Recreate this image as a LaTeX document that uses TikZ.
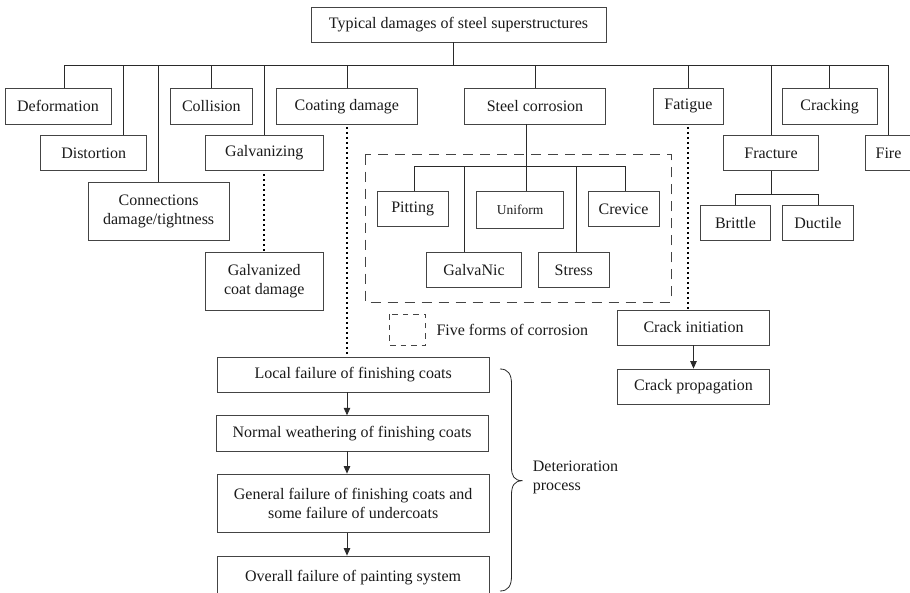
\documentclass[tikz,border=0pt]{standalone}
\usepackage{fontspec}
\setmainfont{Liberation Serif}
\usetikzlibrary{arrows.meta}
\definecolor{boxc}{HTML}{444444}
\definecolor{linec}{HTML}{2A2A2A}
\definecolor{txtc}{HTML}{1A1A1A}
\newcommand\bx[6]{\node[box, minimum width={(#4-#2)*1pt}, minimum height={(#5-#3)*1pt}] (#1) at ({(#2+#4)/2},{(#3+#5)/2}) {#6};}
\begin{document}
\begin{tikzpicture}[x=1pt,y=-1pt,
  box/.style={draw=boxc, line width=0.8pt, inner sep=0pt, text=txtc, align=center, font=\fontsize{16}{19}\selectfont},
  conn/.style={draw=linec, line width=0.8pt},
  dots/.style={draw=black, line width=2.2pt, dash pattern=on 2.2pt off 2.8pt},
  dash5/.style={draw=boxc, line width=0.8pt, dash pattern=on 10pt off 7pt},
  arr/.style={conn, -{Triangle[length=7.5pt,width=6.5pt]}}]
\useasboundingbox (0,0) rectangle (910,593);
% top
\bx{top}{311}{7}{606}{42}{Typical damages of steel superstructures}
% row 1
\bx{deform}{5}{88.7}{111}{124}{Deformation}
\bx{collis}{170}{88.7}{252.7}{124}{Collision}
\bx{coat}{276}{88.7}{417.7}{124}{Coating damage}
\bx{steel}{464.3}{88.7}{605.7}{124}{Steel corrosion}
\bx{fatig}{653}{88.7}{723.7}{124}{Fatigue}
\bx{crack}{782.3}{88.7}{877}{124}{Cracking}
% row 2
\bx{distor}{40.7}{135}{146.7}{170.7}{Distortion}
\bx{galv}{205.3}{135}{323.3}{170.7}{Galvanizing}
\bx{fract}{723.7}{135}{818.3}{170.7}{Fracture}
\bx{fire}{865}{135}{912}{170.7}{Fire}
% row 3
\bx{connd}{88}{182}{229.3}{240.7}{Connections\\damage/tightness}
\bx{galvcd}{205.3}{252}{323.3}{310}{Galvanized\\coat damage}
% corrosion forms
\bx{pit}{377.3}{191.7}{448}{226.7}{Pitting}
\node[box, font=\fontsize{13.5}{16}\selectfont, minimum width=87.4pt, minimum height=36.6pt] (unif) at (520,210) {Uniform};
\bx{crev}{588}{191.7}{659}{226.7}{Crevice}
\bx{galvn}{426.7}{252.7}{521.3}{287.7}{GalvaNic}
\bx{stress}{538.3}{252.7}{609.3}{287.7}{Stress}
% fracture types
\bx{brit}{700.3}{205.7}{770.7}{240.7}{Brittle}
\bx{duct}{782.3}{205.7}{853.3}{240.7}{Ductile}
% fatigue
\bx{cinit}{617.7}{310}{769.3}{345}{Crack initiation}
\bx{cprop}{617.7}{369}{769.3}{404.7}{Crack propagation}
% deterioration process
\bx{local}{217}{357.3}{489.3}{392.3}{Local failure of finishing coats}
\bx{normal}{216}{415.7}{488.3}{451}{Normal weathering of finishing coats}
\bx{general}{217}{474}{489.3}{532.7}{General failure of finishing coats and\\some failure of undercoats}
\bx{overall}{217}{556}{489.3}{600}{Overall failure of painting system}

% main bus
\coordinate (stem) at (453,65.3);
\coordinate (busL) at (64,65.3);
\coordinate (busR) at (888,65.3);
\draw[conn] (stem |- top.south) -- (stem);
\draw[conn] (busL) -- (busR);
\coordinate (dDef) at (64,65.3);
\coordinate (dDis) at (123,65.3);
\coordinate (dCon) at (158,65.3);
\coordinate (dCol) at (211,65.3);
\coordinate (dGal) at (264,65.3);
\coordinate (dCoa) at (347,65.3);
\coordinate (dSte) at (535.7,65.3);
\coordinate (dFat) at (688,65.3);
\coordinate (dFra) at (771,65.3);
\coordinate (dCra) at (829,65.3);
\coordinate (dFir) at (888,65.3);
\draw[conn] (dDef) -- (dDef |- deform.north);
\draw[conn] (dDis) -- (dDis |- distor.north);
\draw[conn] (dCon) -- (dCon |- connd.north);
\draw[conn] (dCol) -- (dCol |- collis.north);
\draw[conn] (dGal) -- (dGal |- galv.north);
\draw[conn] (dCoa) -- (dCoa |- coat.north);
\draw[conn] (dSte) -- (dSte |- steel.north);
\draw[conn] (dFat) -- (dFat |- fatig.north);
\draw[conn] (dFra) -- (dFra |- fract.north);
\draw[conn] (dCra) -- (dCra |- crack.north);
\draw[conn] (dFir) -- (dFir |- fire.north);

% corrosion forms
\draw[dash5] (365,154.7) rectangle (671,302);
\coordinate (sc) at (526.3,124);
\draw[conn] (sc) -- (sc |- unif.north);
\coordinate (cbL) at (414.7,166.7);
\coordinate (cbR) at (625.3,166.7);
\coordinate (cbG) at (464,166.7);
\coordinate (cbS) at (576,166.7);
\draw[conn] (cbL |- pit.north) -- (cbL) -- (cbR) -- (cbR |- crev.north);
\draw[conn] (cbG) -- (cbG |- galvn.north);
\draw[conn] (cbS) -- (cbS |- stress.north);

% fracture
\coordinate (fbL) at (735.7,194);
\coordinate (fbR) at (818,194);
\coordinate (fbC) at (771,194);
\draw[conn] (fract.south) -- (fbC);
\draw[conn] (fbL |- brit.north) -- (fbL) -- (fbR) -- (fbR |- duct.north);

% dotted links
\draw[dots] ([yshift=-3pt]galv.south) -- (galvcd.north);
\coordinate (cd) at (347,127);
\draw[dots] (cd) -- (cd |- local.north);
\coordinate (fd) at (688,127);
\draw[dots] (fd) -- (fd |- cinit.north);

% arrows
\draw[arr] (cinit.south) -- (cprop.north);
\coordinate (la) at (347,392.3);
\draw[arr] (la) -- (la |- normal.north);
\draw[arr] (la |- normal.south) -- (la |- general.north);
\draw[arr] (la |- general.south) -- (la |- overall.north);

% legend
\draw[boxc, line width=0.8pt, dash pattern=on 5.5pt off 5pt] (389.7,314.3) rectangle (425.7,345.3);
\node[anchor=west, inner sep=0pt, text=txtc, font=\fontsize{16}{19}\selectfont] (leg) at (436.3,330) {Five forms of corrosion};

% brace
\draw[linec, line width=0.8pt] (500,369) .. controls (508,369) and (511.5,374) .. (511.5,384) -- (511.5,467)
  .. controls (511.5,476) and (514,480.7) .. (522.7,480.7)
  .. controls (514,480.7) and (511.5,486) .. (511.5,495) -- (511.5,576)
  .. controls (511.5,586) and (508,591) .. (500,591);
\node[anchor=west, inner sep=0pt, text=txtc, align=left, font=\fontsize{16}{19}\selectfont] (det) at (532.7,477) {Deterioration\\process};
\end{tikzpicture}
\end{document}
